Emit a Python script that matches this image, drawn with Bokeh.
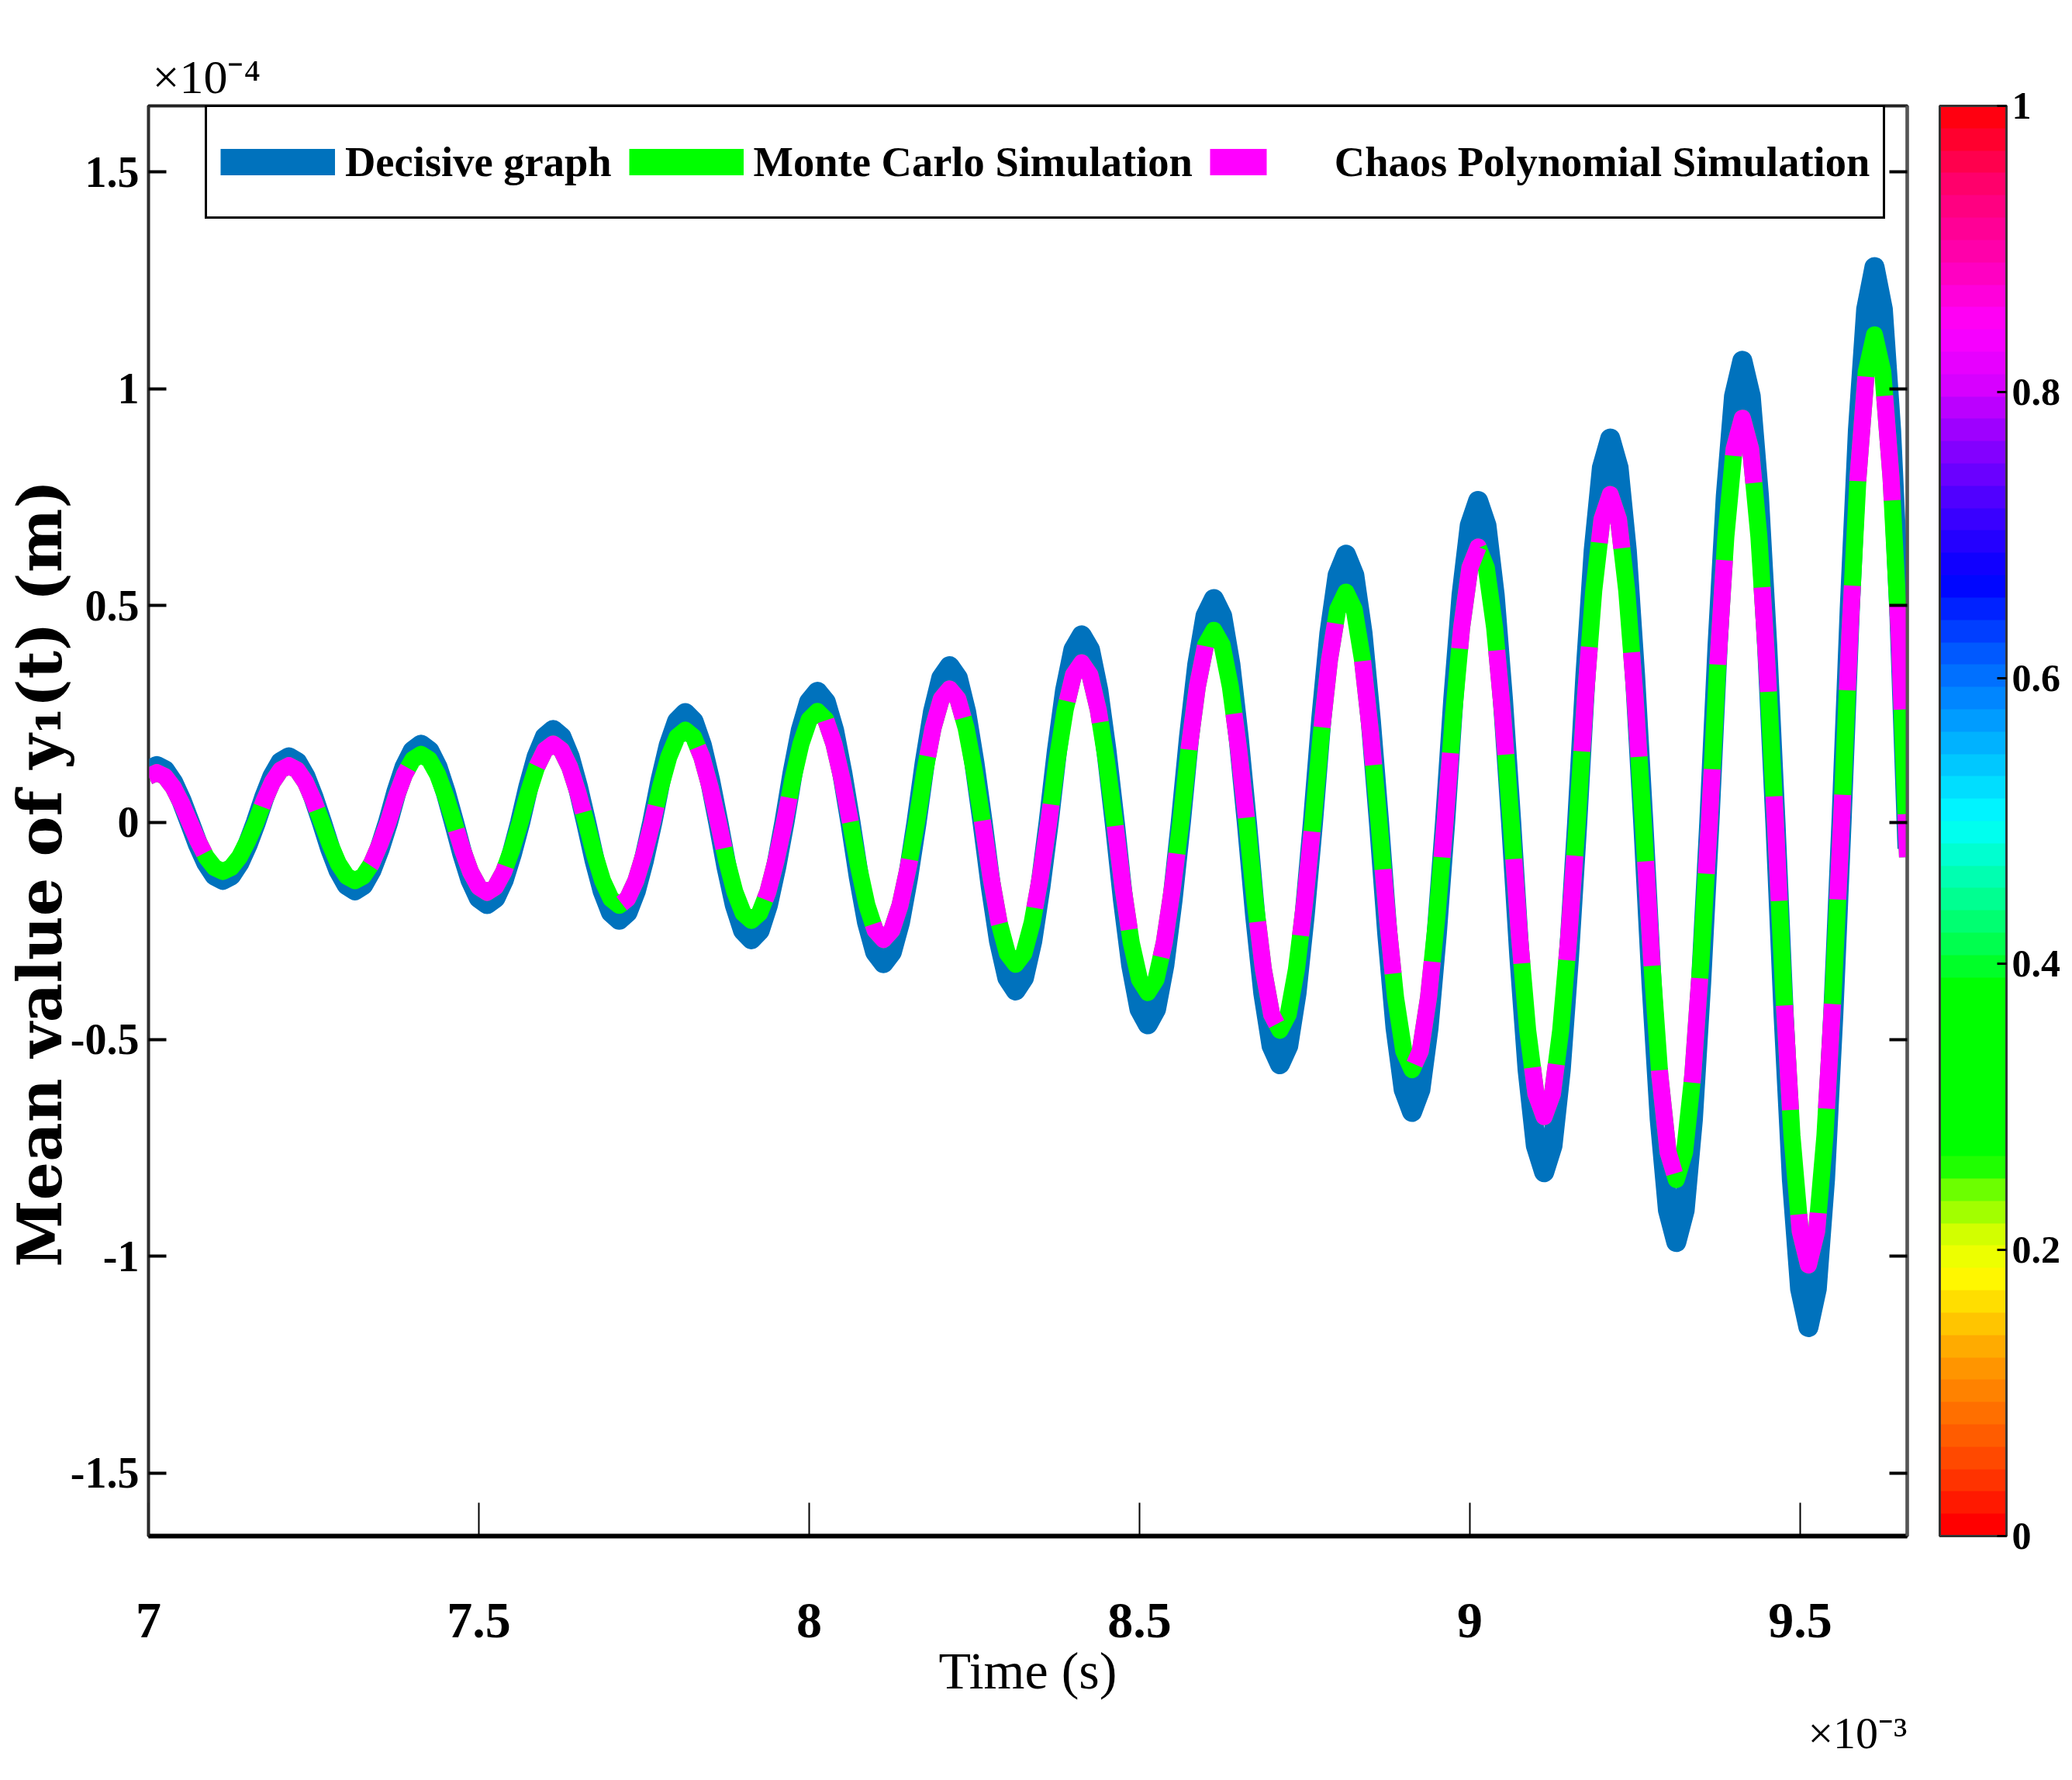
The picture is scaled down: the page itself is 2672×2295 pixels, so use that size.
import numpy as np
from bokeh.plotting import figure
from bokeh.models import (ColorBar, FixedTicker, Legend, LegendItem, LinearAxis,
                          LinearColorMapper, PrintfTickFormatter, Title)
from bokeh.embed import file_html
from bokeh.resources import INLINE

# values: time in units of 1e-3 s, y1 in units of 1e-4 m
# one row = one half swing, sampled every 0.0125e-3 s
decisive = [
    0.120,
    0.130, 0.120, 0.092, 0.050, 0.000, -0.051, -0.093, -0.122,
    -0.132, -0.122, -0.093, -0.051, 0.000, 0.057, 0.106, 0.139,
    0.150, 0.139, 0.106, 0.057, 0.000, -0.060, -0.110, -0.144,
    -0.156, -0.144, -0.110, -0.060, 0.000, 0.069, 0.127, 0.165,
    0.179, 0.165, 0.127, 0.069, 0.000, -0.072, -0.133, -0.174,
    -0.188, -0.174, -0.133, -0.072, 0.000, 0.082, 0.151, 0.197,
    0.213, 0.197, 0.151, 0.082, 0.000, -0.086, -0.158, -0.207,
    -0.224, -0.207, -0.158, -0.086, 0.000, 0.097, 0.178, 0.233,
    0.252, 0.233, 0.178, 0.097, 0.000, -0.103, -0.190, -0.249,
    -0.269, -0.249, -0.190, -0.103, 0.000, 0.115, 0.213, 0.278,
    0.301, 0.278, 0.213, 0.115, 0.000, -0.124, -0.229, -0.299,
    -0.324, -0.299, -0.229, -0.124, 0.000, 0.138, 0.255, 0.333,
    0.360, 0.333, 0.255, 0.138, 0.000, -0.148, -0.274, -0.358,
    -0.387, -0.358, -0.274, -0.148, 0.000, 0.165, 0.305, 0.398,
    0.431, 0.398, 0.305, 0.165, 0.000, -0.178, -0.329, -0.430,
    -0.465, -0.430, -0.329, -0.178, 0.000, 0.197, 0.364, 0.476,
    0.515, 0.476, 0.364, 0.197, 0.000, -0.213, -0.394, -0.515,
    -0.557, -0.515, -0.394, -0.213, 0.000, 0.236, 0.436, 0.570,
    0.617, 0.570, 0.436, 0.236, 0.000, -0.255, -0.472, -0.616,
    -0.667, -0.616, -0.472, -0.255, 0.000, 0.284, 0.524, 0.685,
    0.741, 0.685, 0.524, 0.284, 0.000, -0.309, -0.570, -0.745,
    -0.806, -0.745, -0.570, -0.309, 0.000, 0.339, 0.626, 0.818,
    0.885, 0.818, 0.626, 0.339, 0.000, -0.370, -0.684, -0.894,
    -0.967, -0.894, -0.684, -0.370, 0.000, 0.408, 0.752, 0.983,
    1.064, 0.983, 0.752, 0.408, 0.000, -0.445, -0.822, -1.075,
    -1.163, -1.075, -0.822, -0.445, 0.000, 0.490, 0.905, 1.183,
    1.280, 1.183, 0.905, 0.490, -0.060,
]

monte_carlo = [
    0.106,
    0.115, 0.106, 0.081, 0.044, 0.000, -0.043, -0.080, -0.104,
    -0.113, -0.104, -0.080, -0.043, 0.000, 0.050, 0.093, 0.121,
    0.131, 0.121, 0.093, 0.050, 0.000, -0.051, -0.095, -0.124,
    -0.134, -0.124, -0.095, -0.051, 0.000, 0.060, 0.111, 0.145,
    0.157, 0.145, 0.111, 0.060, 0.000, -0.062, -0.114, -0.149,
    -0.161, -0.149, -0.114, -0.062, 0.000, 0.069, 0.128, 0.167,
    0.181, 0.167, 0.128, 0.069, 0.000, -0.073, -0.135, -0.176,
    -0.191, -0.176, -0.135, -0.073, 0.000, 0.082, 0.151, 0.197,
    0.213, 0.197, 0.151, 0.082, 0.000, -0.087, -0.160, -0.209,
    -0.226, -0.209, -0.160, -0.087, 0.000, 0.098, 0.181, 0.237,
    0.256, 0.237, 0.181, 0.098, 0.000, -0.103, -0.191, -0.249,
    -0.270, -0.249, -0.191, -0.103, 0.000, 0.118, 0.218, 0.285,
    0.308, 0.285, 0.218, 0.118, 0.000, -0.125, -0.231, -0.302,
    -0.327, -0.302, -0.231, -0.125, 0.000, 0.141, 0.260, 0.340,
    0.368, 0.340, 0.260, 0.141, 0.000, -0.150, -0.277, -0.362,
    -0.392, -0.362, -0.277, -0.150, 0.000, 0.170, 0.313, 0.409,
    0.443, 0.409, 0.313, 0.170, 0.000, -0.183, -0.339, -0.443,
    -0.479, -0.443, -0.339, -0.183, 0.000, 0.203, 0.375, 0.491,
    0.531, 0.491, 0.375, 0.203, 0.000, -0.218, -0.403, -0.527,
    -0.570, -0.527, -0.403, -0.218, 0.000, 0.243, 0.449, 0.587,
    0.635, 0.587, 0.449, 0.243, 0.000, -0.260, -0.479, -0.626,
    -0.678, -0.626, -0.479, -0.260, 0.000, 0.290, 0.534, 0.699,
    0.756, 0.699, 0.534, 0.290, 0.000, -0.315, -0.582, -0.760,
    -0.823, -0.760, -0.582, -0.315, 0.000, 0.357, 0.659, 0.861,
    0.932, 0.861, 0.659, 0.357, 0.000, -0.391, -0.721, -0.942,
    -1.020, -0.942, -0.721, -0.391, 0.000, 0.430, 0.795, 1.039,
    1.124, 1.039, 0.795, 0.430, -0.080,
]

# the dashed chaos polynomial curve sits right on top of the Monte Carlo one
chaos_poly = list(monte_carlo)

time_ms = [round(7.0 + 0.0125 * i, 4) for i in range(len(decisive))]

x_ticks = [7, 7.5, 8, 8.5, 9, 9.5]
y_ticks = [-1.5, -1, -0.5, 0, 0.5, 1, 1.5]
cbar_ticks = [0, 0.2, 0.4, 0.6, 0.8, 1]

FONT = "Liberation Serif"
BLUE, GREEN, MAGENTA = "#0072BD", "#00FF00", "#FF00FF"

# colour bar stops (red-yellow-green-cyan-blue-magenta-red)
stops = [(0.00, "#ff0000"), (0.04, "#ff4000"), (0.08, "#ff7000"), (0.12, "#ffa000"),
         (0.15, "#ffd000"), (0.18, "#ffff00"), (0.21, "#ccff00"), (0.24, "#66ff00"),
         (0.26, "#00ff00"), (0.38, "#00ff00"), (0.42, "#00ff60"), (0.46, "#00ffb0"),
         (0.50, "#00ffff"), (0.54, "#00c8ff"), (0.58, "#0090ff"), (0.62, "#0058ff"),
         (0.67, "#0000ff"), (0.72, "#4000ff"), (0.77, "#9000ff"), (0.81, "#d800ff"),
         (0.85, "#ff00ff"), (0.90, "#ff00b0"), (0.95, "#ff0070"), (1.00, "#ff0010")]
pos = [s[0] for s in stops]
rgb = np.array([[int(c[i:i + 2], 16) for i in (1, 3, 5)] for _, c in stops])
levels = np.linspace(0, 1, 64)
palette = ["#%02x%02x%02x" % tuple(int(round(np.interp(v, pos, rgb[:, k]))) for k in range(3))
           for v in levels]

p = figure(width=2656, height=2290, x_range=(7.0, 9.662), y_range=(-1.645, 1.652),
           output_backend="svg", toolbar_location=None, tools="",
           min_border_left=191, min_border_right=197, min_border_top=136, min_border_bottom=310)
p.outline_line_color = "#222222"
p.outline_line_width = 4
p.grid.visible = False
p.background_fill_color = "white"
p.border_fill_color = "white"

# exponent of the y axis, top left
p.title.text = "\u00d710\u207b\u2074"
p.title.align = "left"
p.title.offset = 5
p.title.standoff = 7
p.title.text_font = FONT
p.title.text_font_size = "62px"
p.title.text_font_style = "normal"
p.title.text_color = "black"

p.line(time_ms, decisive, line_color=BLUE, line_width=26, line_join="round")
p.line(time_ms, monte_carlo, line_color=GREEN, line_width=22, line_join="round")
p.line(time_ms, chaos_poly, line_color=MAGENTA, line_width=22, line_join="round",
       line_dash="135 135")

# axes: ticks pointing inwards like the original
xa = p.xaxis[0]
xa.ticker = FixedTicker(ticks=x_ticks)
xa.formatter = PrintfTickFormatter(format="%g")
xa.major_tick_in = 43
xa.major_tick_out = 0
xa.major_tick_line_width = 2
xa.minor_tick_line_color = None
xa.axis_line_width = 6
xa.major_label_standoff = 87
xa.major_label_text_font = FONT
xa.major_label_text_font_size = "66px"
xa.major_label_text_font_style = "bold"
xa.major_label_text_color = "black"
xa.axis_label = "Time (s)"
xa.axis_label_standoff = 2
xa.axis_label_text_font = FONT
xa.axis_label_text_font_size = "68px"
xa.axis_label_text_font_style = "normal"
xa.axis_label_text_color = "black"

ya = p.yaxis[0]
ya.ticker = FixedTicker(ticks=y_ticks)
ya.formatter = PrintfTickFormatter(format="%g")
ya.major_tick_in = 23
ya.major_tick_out = 0
ya.major_tick_line_width = 4
ya.minor_tick_line_color = None
ya.axis_line_width = 2
ya.axis_line_color = "#333333"
ya.major_label_standoff = 12
ya.major_label_text_font = FONT
ya.major_label_text_font_size = "56px"
ya.major_label_text_font_style = "bold"
ya.major_label_text_color = "black"
# trailing no-break spaces move the centred label down a little, as in the original
ya.axis_label = "Mean value of  y\u2081(t) (m)" + "\u00a0" * 4
ya.axis_label_text_font = "DejaVu Serif"
ya.axis_label_text_font_size = "78px"
ya.axis_label_text_font_style = "bold"
ya.axis_label_text_color = "black"
ya.axis_label_standoff = -9

ra = LinearAxis(ticker=FixedTicker(ticks=y_ticks), major_label_text_color=None,
                major_tick_in=23, major_tick_out=0, major_tick_line_width=4,
                minor_tick_line_color=None, axis_line_width=4, axis_line_color="#555555",
                major_label_standoff=0)
p.add_layout(ra, "right")

# exponent of the x axis, bottom right
p.add_layout(Title(text="\u00d710\u207b\u00b3", align="right", standoff=10,
                   text_font=FONT, text_font_size="58px", text_font_style="normal",
                   text_color="black"), "below")

# colour bar at the right
mapper = LinearColorMapper(palette=palette, low=0, high=1)
cb = ColorBar(color_mapper=mapper, ticker=FixedTicker(ticks=cbar_ticks),
              formatter=PrintfTickFormatter(format="%g"),
              width=86, height=1844, location=(2310, 0), padding=0, margin=0,
              bar_line_color="#333333", bar_line_width=3,
              major_tick_in=12, major_tick_out=0, major_tick_line_color="black",
              major_tick_line_width=3, minor_tick_line_color=None, label_standoff=7,
              major_label_text_font=FONT, major_label_text_font_size="50px",
              major_label_text_font_style="bold", major_label_text_color="black",
              background_fill_color="white", border_line_color=None)
p.add_layout(cb)

# legend with thick swatches (proxy lines without visible data)
nan = [float("nan")]
s1 = p.line(x=nan, y=nan, line_color=BLUE, line_width=34)
s2 = p.line(x=nan, y=nan, line_color=GREEN, line_width=34)
s3 = p.line(x=nan, y=nan, line_color=MAGENTA, line_width=34, line_dash="73 80")
legend = Legend(items=[LegendItem(label="Decisive graph", renderers=[s1]),
                       LegendItem(label="Monte Carlo Simulation", renderers=[s2]),
                       LegendItem(label="Chaos Polynomial Simulation", renderers=[s3])],
                location=(73, 1698), orientation="horizontal",
                glyph_width=148, glyph_height=107, label_height=107,
                label_standoff=13, spacing=22, padding=17, margin=0,
                border_line_color="black", border_line_width=3, border_line_alpha=1,
                background_fill_color="white", background_fill_alpha=1,
                label_text_font=FONT, label_text_font_size="54.5px",
                label_text_font_style="bold", label_text_color="black")
p.add_layout(legend)

open("out.html", "w").write(file_html(p, INLINE))
